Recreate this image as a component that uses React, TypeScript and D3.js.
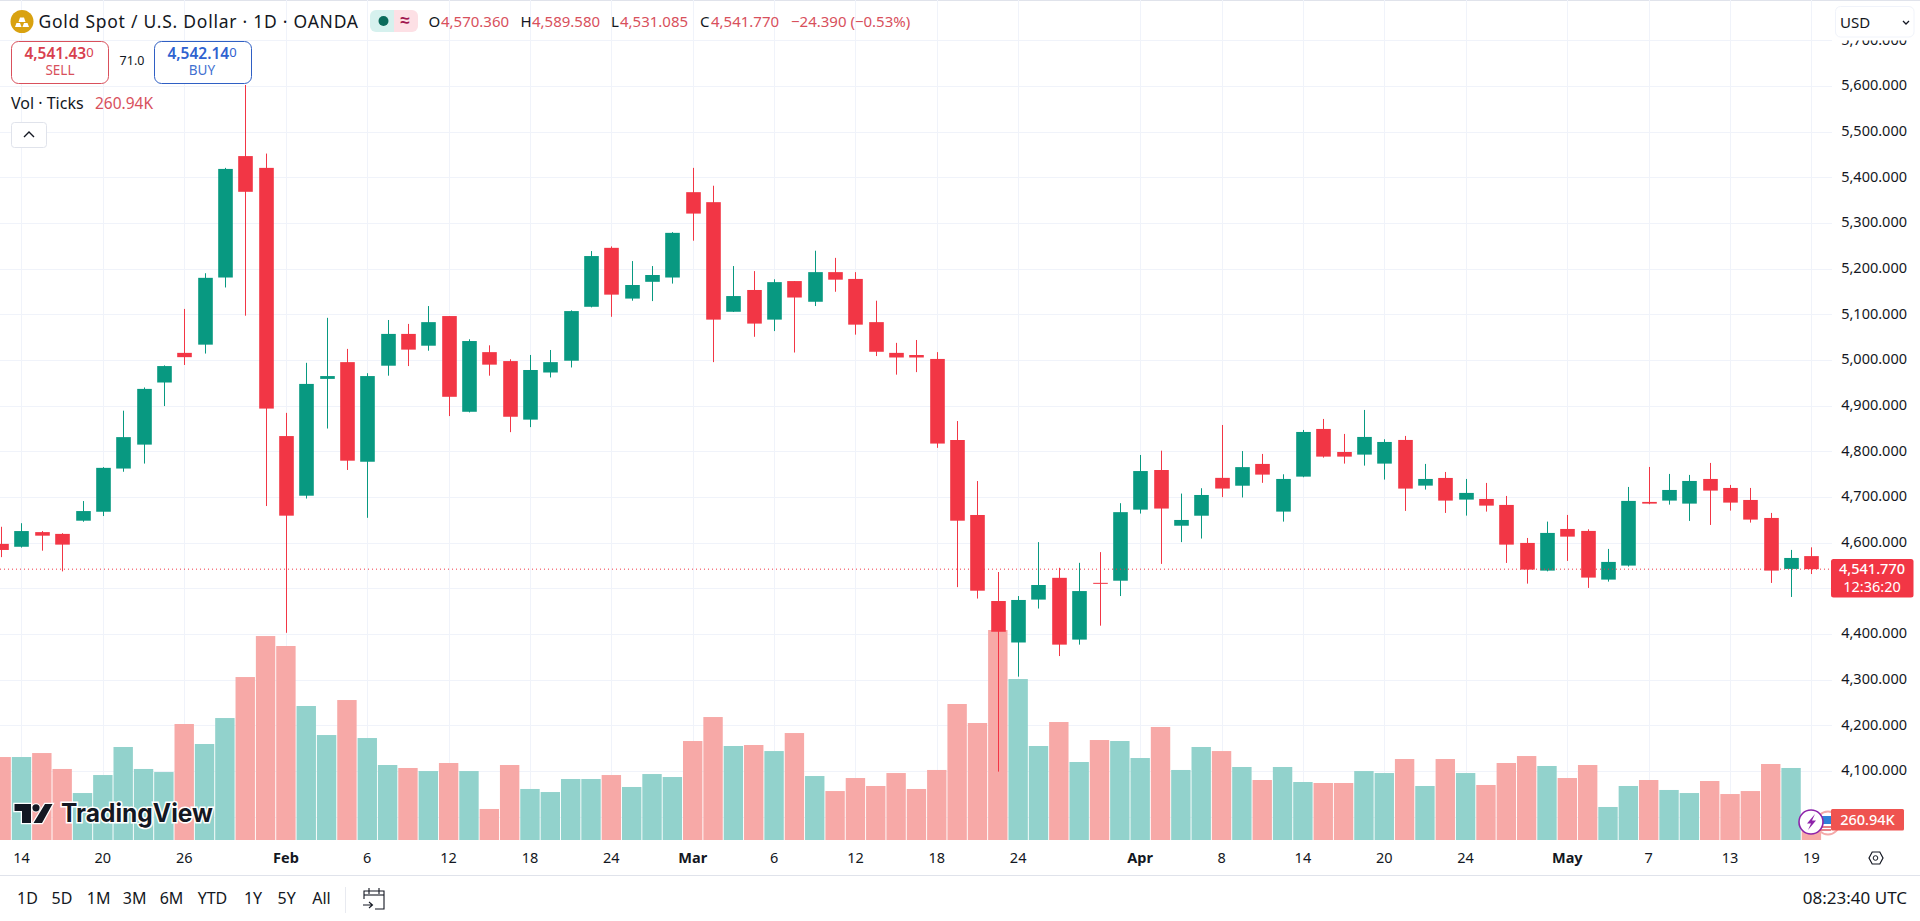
import React from "react";
import * as d3 from "d3";

const opens = [4597.1,4590.8,4622.9,4619,4647.9,4667.5,4762.1,4814.5,4950.5,5015.4,5033.4,5180.4,5446.3,5420.5,4833.2,4702.6,4958.4,4995.1,4777,4987.3,5056.9,5031.1,5096,4886.4,5017,4997.4,4869.2,4972.4,4998.2,5116.3,5245.4,5134.3,5171,5180.4,5367.3,5345.4,5105.4,5153.1,5088.2,5172.6,5127.3,5192.2,5177.3,5082.7,5015.4,5010.7,5002.1,4824.6,4660.4,4472,4381.2,4475.1,4522.8,4387.5,4511.8,4516.5,4672.1,4758.9,4636.9,4658.8,4741.7,4724.5,4772.2,4667.8,4744.4,4848.8,4798.4,4792.6,4772.9,4824.7,4724.7,4741.5,4694.1,4695.5,4682.4,4599.2,4538.6,4629.8,4625.5,4518.9,4549.6,4689,4691.9,4685.3,4739.3,4719.6,4693.3,4653.9,4542.3,4570.36];
const highs = [4634.6,4642.4,4625.2,4620.5,4690.9,4765.2,4888.8,4939.6,4988,5111.6,5189.8,5420.5,5602,5451.8,4884,4993.6,5092.1,5024.1,4970.9,5087.4,5078.8,5117.9,5096,5045.2,5031.9,5001.4,5010.8,5021.7,5108.5,5238.3,5248.5,5216.4,5205.5,5279.7,5420.5,5381.4,5205.5,5194.5,5176.5,5172.6,5239.1,5223.4,5192.2,5129.6,5037.3,5043.6,5017,4866.1,4734.7,4535.5,4482.9,4601,4544.7,4555.6,4579.1,4686.2,4791.8,4801.2,4707.3,4719,4857.5,4800.4,4794.1,4749.5,4846.6,4870.7,4837.9,4890.4,4826.2,4833.5,4772.2,4754.6,4739.3,4730.6,4702.1,4610.1,4645.9,4660.5,4629.1,4586.1,4721.8,4765.6,4750.3,4748.1,4774.4,4726.2,4719.6,4664.9,4583.9,4589.58];
const lows = [4568.1,4589,4582.2,4536.9,4645.6,4658.1,4755.1,4773,4898.9,4988.9,5013.9,5158.6,5096.8,4680,4402.4,4696.4,4849.7,4759,4654.2,4965.4,4986.5,5020.1,4877,4885,4965.4,4841.8,4852.8,4961.5,4983.4,5115,5094.4,5129.6,5128.8,5167.1,5261,4995.1,5105,5050.6,5063.1,5016.2,5117.9,5149.2,5055.3,5008.4,4967.7,4973.2,4807.4,4502.4,4477.4,4098.4,4306.4,4455.5,4351.5,4376.5,4418,4482.9,4663.5,4553.3,4601,4608.8,4699.5,4698.7,4730.8,4645.9,4743,4786,4772.9,4768.5,4737.9,4669.3,4716,4664.9,4659,4667.8,4555.4,4510.1,4537,4559.8,4500.7,4514.5,4547.4,4684,4683.1,4647.4,4638.6,4670,4643.7,4511.6,4480.9,4531.085];
const closes = [4583.8,4625.2,4615.1,4595.5,4669,4763.6,4830.9,4936.5,4986.5,5006,5179.7,5418.2,5368.1,4893.4,4658.9,4947.4,4964.6,4779.3,4964.6,5056.9,5022.5,5082.7,4919.2,5041.3,4989.6,4875.5,4977.9,4995.1,5106.9,5227.4,5142.9,5164,5185.9,5278.2,5320.4,5088.2,5139.8,5079.5,5170.3,5136.6,5192.2,5175.7,5077.2,5017.8,5005.3,5005.3,4816.8,4647.9,4494.6,4404.7,4474.3,4507.1,4376.5,4493.8,4510.3,4666.6,4756.6,4674.5,4649.5,4704.2,4718.3,4765.2,4748.8,4739.3,4842.2,4788.2,4788.2,4831.3,4820.3,4718.2,4739.3,4691.9,4708.7,4680.9,4595.5,4540.8,4621.1,4613,4523.3,4557.6,4691.2,4685.3,4715.2,4734.9,4713.8,4687.5,4650.3,4538.6,4566.3,4541.77];
const volumes = [1083,1083,1135,927,613,848,1214,927,887,1514,1253,1592,2127,2662,2532,1749,1370,1827,1331,979,940,900,1005,900,405,979,666,626,796,796,848,692,861,822,1292,1605,1227,1240,1161,1396,835,639,809,705,874,666,914,1775,1527,2741,2101,1227,1540,1018,1305,1292,1070,1475,914,1214,1161,953,783,953,757,744,744,900,874,1057,705,1057,874,718,1005,1096,966,809,979,431,705,783,653,613,770,600,639,992,940,260.94];

const timeTickIdx = [1,5,9,14,18,22,26,30,34,38,42,46,50,56,60,64,68,72,77,81,85,89];
const timeTickLabels = ["14","20","26","Feb","6","12","18","24","Mar","6","12","18","24","Apr","8","14","20","24","May","7","13","19"];
const gridPrices = [4000,4100,4200,4300,4400,4500,4600,4700,4800,4900,5000,5100,5200,5300,5400,5500,5600,5700];
const labelPrices = [4100,4200,4300,4400,4600,4700,4800,4900,5000,5100,5200,5300,5400,5500,5600,5700];
const rangeLabels = ["1D","5D","1M","3M","6M","YTD","1Y","5Y","All"];
const rangeX = [27.5,62,98.6,134.7,171.5,212.5,253,286.6,321.5];
const lastPrice = 4541.77;

const FONT = "'Noto Sans', sans-serif";
const UP = "#089981";
const DOWN = "#F23645";
const UP_VOL = "#92D2CC";
const DOWN_VOL = "#F7A9A7";
const GRID = "#F0F3FA";
const TEXT = "#131722";
const PANE_R = 1832;

export default function App() {
  const x = d3.scaleLinear().domain([0, 89]).range([1.15, 1811.4]);
  const y = d3.scaleLinear().domain([5600, 4100]).range([85.9, 770.9]);
  const yVol = d3.scaleLinear().domain([0, 2741]).range([840, 630]);
  const fmt = d3.format(",.3f");
  const bodyW = 14.6;
  const volW = 19.4;
  return (
    <svg width={1920} height={921} viewBox="0 0 1920 921" style={{ position: "fixed", left: 0, top: 0, display: "block", background: "#fff" }} fontFamily={FONT}>
      <rect width={1920} height={921} fill="#fff" />
      <line x1={0} x2={1920} y1={0.5} y2={0.5} stroke="#E0E3EB" />
      {/* grid */}
      {gridPrices.map((p) => (
        <line key={p} x1={0} x2={PANE_R} y1={Math.round(y(p)) + 0.5} y2={Math.round(y(p)) + 0.5} stroke={GRID} />
      ))}
      {timeTickIdx.map((i) => (
        <line key={i} x1={Math.round(x(i)) + 0.5} x2={Math.round(x(i)) + 0.5} y1={0} y2={840} stroke={GRID} />
      ))}
      {/* volume */}
      {volumes.map((v, i) => (
        <rect key={i} x={x(i) - volW / 2} width={volW} y={yVol(v)} height={840 - yVol(v)} fill={closes[i] >= opens[i] ? UP_VOL : DOWN_VOL} />
      ))}
      {/* candles */}
      {opens.map((o, i) => {
        const c = closes[i];
        const col = c >= o ? UP : DOWN;
        const top = y(Math.max(o, c));
        const bot = y(Math.min(o, c));
        const cx = Math.round(x(i)) + 0.5;
        return (
          <g key={i}>
            <line x1={cx} x2={cx} y1={y(highs[i])} y2={y(lows[i])} stroke={col} strokeWidth={1} />
            <rect x={cx - bodyW / 2} width={bodyW} y={top} height={Math.max(bot - top, 1)} fill={col} />
          </g>
        );
      })}
      {/* last price line */}
      <line x1={0} x2={PANE_R} y1={y(lastPrice)} y2={y(lastPrice)} stroke={DOWN} strokeWidth={1} strokeDasharray="1 3" />

      {/* price axis */}
      {labelPrices.map((p) => (
        <text key={p} x={1907} y={y(p) - 1.5} textAnchor="end" dominantBaseline="central" fontSize={14.5} fill={TEXT}>{fmt(p)}</text>
      ))}
      <rect x={1831} y={559} width={82.5} height={38.5} rx={2.5} fill={DOWN} />
      <text x={1872} y={568} textAnchor="middle" dominantBaseline="central" fontSize={14.5} fontWeight={500} fill="#fff">{fmt(lastPrice)}</text>
      <text x={1872} y={586} textAnchor="middle" dominantBaseline="central" fontSize={14.5} fill="#fff">12:36:20</text>

      {/* USD */}
      <rect x={1833} y={1} width={87} height={39.5} fill="#fff" />
      <rect x={1835.5} y={6.5} width={78.5} height={30.5} rx={5} fill="#fff" stroke="#F0F3FA" />
      <text x={1840} y={21.5} dominantBaseline="central" fontSize={15} fill={TEXT}>USD</text>
      <path d="M1903 21 l3 3 l3 -3" fill="none" stroke={TEXT} strokeWidth={1.3} />

      {/* event icons */}
      <circle cx={1828} cy={823} r={11.5} fill="#fff" stroke="#F4A9A9" strokeWidth={2} />
      <rect x={1822} y={816} width={9} height={8} fill="#2F80D8" />
      <path d="M1818 827 H1831 M1819 830 H1831" stroke="#E0555F" strokeWidth={1.4} />
      <circle cx={1811} cy={822} r={12} fill="#fff" stroke="#8E24AA" strokeWidth={1.6} />
      <path d="M1815 814 L1807 823.5 L1811 823.5 L1808 830 L1816 820.5 L1812 820.5 Z" fill="#8E24AA" />
      <rect x={1831} y={809} width={73} height={21.5} rx={1.5} fill="#EF5350" />
      <text x={1867.5} y={819} textAnchor="middle" dominantBaseline="central" fontSize={14.5} fontWeight={500} fill="#fff">260.94K</text>

      {/* logo */}
      <g>
        <path d="M14.5 804 H31 V823 H22 V811 H14.5 Z M45 804 H52.5 L42 823 H33.5 Z" fill="#131722" stroke="#fff" strokeWidth={2.5} paintOrder="stroke" />
        <circle cx={36} cy={807.8} r={3.6} fill="#131722" stroke="#fff" strokeWidth={2} paintOrder="stroke" />
        <text x={61} y={822} fontFamily="Inter, sans-serif" fontWeight={700} fontSize={25} textLength={152} lengthAdjust="spacingAndGlyphs" fill="#131722" stroke="#fff" strokeWidth={3} paintOrder="stroke">TradingView</text>
      </g>

      {/* header */}
      <circle cx={22} cy={21.5} r={11.5} fill="#D9A210" />
      <path d="M15 27 h6.5 l-1.5 -4 h-3.5 Z M22.5 27 h6.5 l-1.5 -4 h-3.5 Z M18.5 22 h7 l-1.5 -4.5 h-4 Z" fill="#fff" />
      <text x={38.5} y={20.5} dominantBaseline="central" fontSize={17.5} textLength={319.5} fill={TEXT}>Gold Spot / U.S. Dollar · 1D · OANDA</text>
      <path d="M394 10 H376 a6 6 0 0 0 -6 6 v10 a6 6 0 0 0 6 6 H394 Z" fill="#D6F1EE" />
      <path d="M394 10 H412 a6 6 0 0 1 6 6 v10 a6 6 0 0 1 -6 6 H394 Z" fill="#FDE0E5" />
      <circle cx={383.5} cy={21} r={5} fill="#0B6B5B" />
      <text x={405} y={19} textAnchor="middle" dominantBaseline="central" fontSize={17} fontWeight={700} fill="#A0174F">≈</text>
      <g fontSize={15} dominantBaseline="central">
        <text x={428.6} y={20.5} fill={TEXT}>O</text>
        <text x={441} y={20.5} fill="#D8505C">4,570.360</text>
        <text x={520.5} y={20.5} fill={TEXT}>H</text>
        <text x={532} y={20.5} fill="#D8505C">4,589.580</text>
        <text x={611} y={20.5} fill={TEXT}>L</text>
        <text x={620} y={20.5} fill="#D8505C">4,531.085</text>
        <text x={700} y={20.5} fill={TEXT}>C</text>
        <text x={711} y={20.5} fill="#D8505C">4,541.770</text>
        <text x={791} y={20.5} fill="#D8505C">−24.390 (−0.53%)</text>
      </g>
      {/* sell / buy */}
      <rect x={11.5} y={41.5} width={97} height={42} rx={7} fill="#fff" stroke="#D9505C" />
      <text x={59} y={53} textAnchor="middle" dominantBaseline="central" fill="#D8404E" fontWeight={600} fontSize={15.5}>4,541.43<tspan fontSize={13} fontWeight={400} dy={-1.5}>0</tspan></text>
      <text x={60} y={70} textAnchor="middle" dominantBaseline="central" fill="#D8505C" fontSize={13.5}>SELL</text>
      <text x={132} y={60.5} textAnchor="middle" dominantBaseline="central" fill={TEXT} fontSize={12.5}>71.0</text>
      <rect x={154.5} y={41.5} width={97} height={42} rx={7} fill="#fff" stroke="#2F5FC4" />
      <text x={202} y={53} textAnchor="middle" dominantBaseline="central" fill="#2F62D0" fontWeight={600} fontSize={15.5}>4,542.14<tspan fontSize={13} fontWeight={400} dy={-1.5}>0</tspan></text>
      <text x={202} y={70} textAnchor="middle" dominantBaseline="central" fill="#3F6FD0" fontSize={13.5}>BUY</text>
      <text x={11} y={102.5} dominantBaseline="central" fontSize={16} fill={TEXT}>Vol · Ticks</text>
      <text x={95} y={102.5} dominantBaseline="central" fontSize={15.5} fill="#D8505C">260.94K</text>
      <rect x={11.5} y={122.5} width={35} height={25} rx={3} fill="#fff" stroke="#E0E3EB" />
      <path d="M24 137 l5 -5 l5 5" fill="none" stroke={TEXT} strokeWidth={1.4} />

      {/* time axis */}
      {timeTickIdx.map((i, k) => {
        const isMonth = isNaN(+timeTickLabels[k]);
        return (
          <text key={i} x={x(i)} y={856.5} textAnchor="middle" dominantBaseline="central" fontSize={14.5} fontWeight={isMonth ? 700 : 400} fill={TEXT}>{timeTickLabels[k]}</text>
        );
      })}
      <path d="M1869 858 l3.2 -6 h7.6 l3.2 6 l-3.2 6 h-7.6 Z" fill="none" stroke={TEXT} strokeWidth={1.2} />
      <circle cx={1875.5} cy={858} r={2.3} fill="none" stroke={TEXT} strokeWidth={1} />
      <line x1={0} x2={1920} y1={875.5} y2={875.5} stroke="#E0E3EB" />

      {/* bottom bar */}
      {rangeLabels.map((l, i) => (
        <text key={l} x={rangeX[i]} y={897.5} textAnchor="middle" dominantBaseline="central" fontSize={16} fill={TEXT}>{l}</text>
      ))}
      <line x1={345.5} x2={345.5} y1={887} y2={913} stroke="#E8EAF0" />
      <g fill="none" stroke={TEXT} strokeWidth={1.1}>
        <path d="M364 899 V891 H384 V909 H375" />
        <path d="M364 895 H384" />
        <path d="M369 888 V894 M379 888 V894" />
        <path d="M363 905 H372 M369 902 L372.5 905 L369 908" />
      </g>
      <text x={1907} y={897.5} textAnchor="end" dominantBaseline="central" fontSize={17} fill={TEXT}>08:23:40 UTC</text>
    </svg>
  );
}
